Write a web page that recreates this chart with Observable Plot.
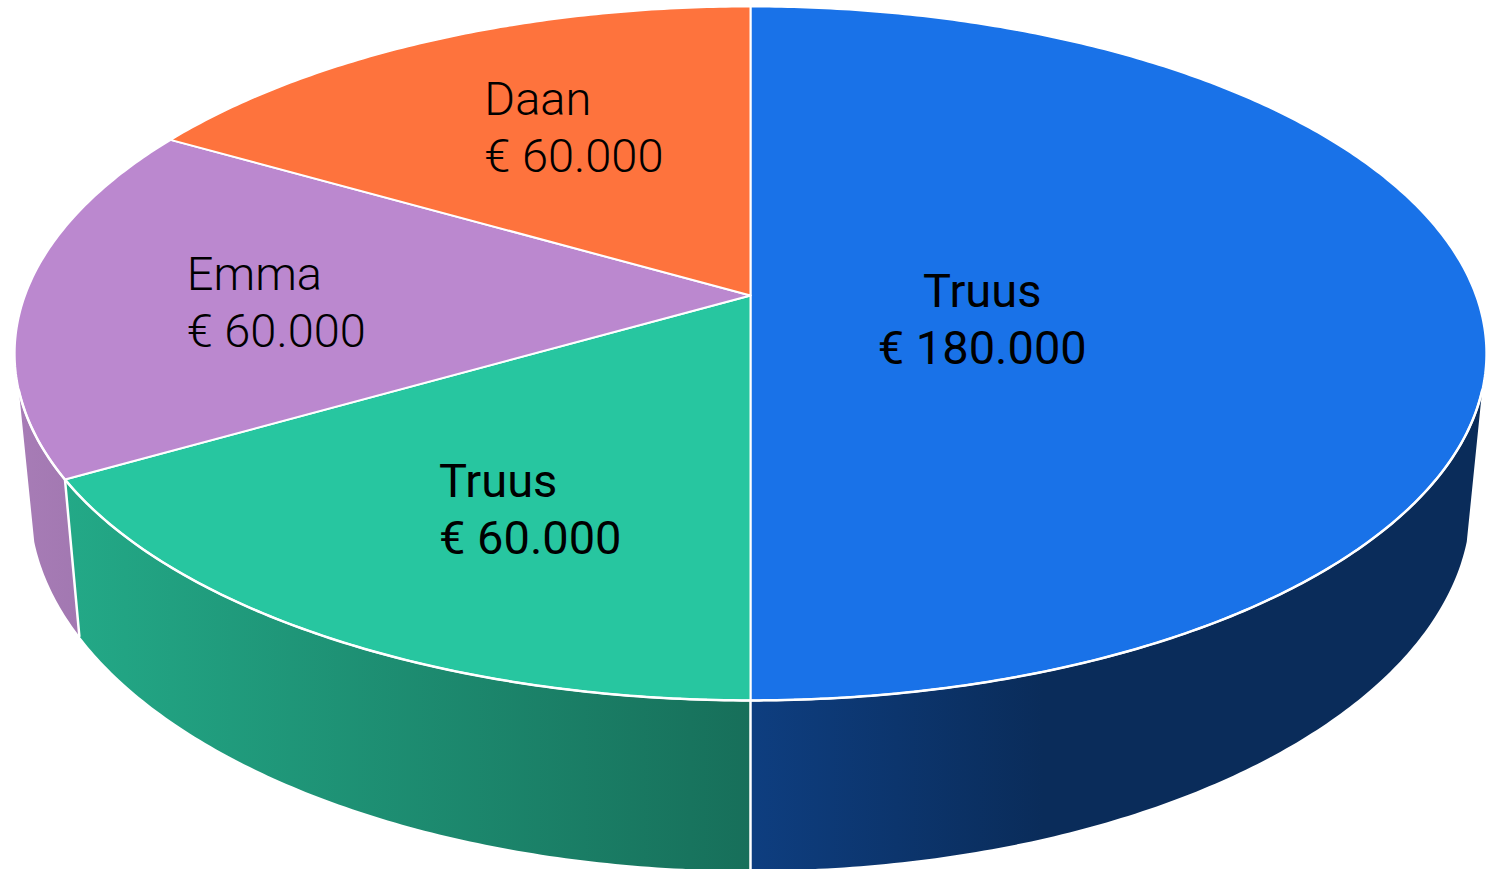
<!DOCTYPE html>
<html>
<head>
<meta charset="utf-8">
<script src="https://cdn.jsdelivr.net/npm/d3@7"></script>
<script src="https://cdn.jsdelivr.net/npm/@observablehq/plot@0.6"></script>
<style>
  html, body { margin: 0; padding: 0; background: #fff; }
  svg { display: block; }
</style>
</head>
<body>
<div id="chart"></div>
<script>
// Data, clockwise from twelve o'clock
const names = ["Truus", "Truus", "Emma", "Daan"];
const amounts = [180000, 60000, 60000, 60000];
const amountLabels = ["€ 180.000", "€ 60.000", "€ 60.000", "€ 60.000"];

// Colours
const topColors = ["#1972e8", "#27c6a0", "#bb88cf", "#fe733d"];
const wallFrom = ["#0e3e80", "#23a987", "#a77cb6", "#a77cb6"];
const wallTo = ["#0a2c5a", "#176f5a", "#a278b1", "#a278b1"];

// Perspective of the disc
const tilt = 0.167;
const lowerScaleX = 0.979, lowerScaleY = 1.0607, lowerShift = -0.4314;
const visibleFrom = 105.6 * Math.PI / 180, visibleTo = 254.4 * Math.PI / 180;
const upper = (a, r = 1) => {
  const X = r * Math.sin(a), Y = r * Math.cos(a), w = 1 + tilt * Y;
  return {u: X / w, v: Y / w};
};
const lower = (a) => {
  const X = Math.sin(a), Y = Math.cos(a), w = 1 + tilt * Y;
  return {u: lowerScaleX * X / w, v: lowerShift + lowerScaleY * Y / w};
};
const arcAngles = (a0, a1) => {
  const n = Math.max(2, Math.ceil((a1 - a0) / 0.01));
  return d3.range(n + 1).map(i => a0 + (a1 - a0) * i / n);
};

const slices = d3.pie().sort(null)(amounts).map((s, i) => ({
  a0: s.startAngle, a1: s.endAngle, mid: (s.startAngle + s.endAngle) / 2,
  name: names[i], amount: amountLabels[i], i
}));

const topFace = s => [{u: 0, v: 0}, ...arcAngles(s.a0, s.a1).map(a => upper(a)), {u: 0, v: 0}];
const wall = s => {
  const a0 = Math.max(s.a0, visibleFrom), a1 = Math.min(s.a1, visibleTo);
  if (a1 <= a0) return null;
  const angles = arcAngles(a0, a1);
  const path = [...angles.map(a => upper(a)), ...angles.slice().reverse().map(lower)];
  return [...path, path[0]];
};

const defs = () => {
  const d = d3.create("svg:defs");
  slices.forEach(s => {
    const g = d.append("linearGradient").attr("id", `wall${s.i}`).attr("x1", 0).attr("x2", 1).attr("y1", 0).attr("y2", 0);
    g.append("stop").attr("offset", 0).attr("stop-color", wallFrom[s.i]);
    g.append("stop").attr("offset", s.i === 0 ? 0.4 : 1).attr("stop-color", wallTo[s.i]);
  });
  return d.node();
};

const wallMarks = slices.map(s => {
  const pts = wall(s);
  return pts ? Plot.line(pts, {x: "u", y: "v", fill: `url(#wall${s.i})`, stroke: "none"}) : null;
});
const seams = slices
  .filter(s => s.a0 >= visibleFrom && s.a0 <= visibleTo)
  .map(s => Plot.line([upper(s.a0), lower(s.a0)], {x: "u", y: "v", stroke: "#fff", strokeWidth: 2.5}));
const faces = slices.map(s =>
  Plot.line(topFace(s), {x: "u", y: "v", fill: topColors[s.i], stroke: "#fff", strokeWidth: 2, strokeLinejoin: "miter"}));
const rim = Plot.line(arcAngles(visibleFrom, visibleTo).map(a => upper(a)),
  {x: "u", y: "v", stroke: "#fff", strokeWidth: 2.5});

// Label placement relative to each slice's mid-angle
const labelOffsets = [
  {dx: -131, dy: 22, anchor: "middle", weight: 400},
  {dx: -116, dy: 54, anchor: "start", weight: 400},
  {dx: -201, dy: 5, anchor: "start", weight: 300},
  {dx: -97, dy: -34, anchor: "start", weight: 300}
];
const labels = slices.map(s => {
  const o = labelOffsets[s.i];
  const p = upper(s.mid, 0.5);
  return Plot.text([{...p, t: `${s.name}\n${s.amount}`}], {
    x: "u", y: "v", text: "t", dx: o.dx, dy: o.dy, textAnchor: o.anchor,
    lineAnchor: "middle", lineHeight: 1.21, fontSize: 47, fontWeight: o.weight,
    fontFamily: "Roboto", fill: "#000"
  });
});

const chart = Plot.plot({
  width: 1496, height: 869,
  margin: 0,
  style: {background: "#fff"},
  x: {domain: [-1.03377, 1.02826], range: [0, 1496], axis: null},
  y: {domain: [0.8746, -1.7018], range: [0, 869], axis: null},
  marks: [defs, ...wallMarks.filter(Boolean), ...seams, ...faces, rim, ...labels]
});
document.getElementById("chart").append(chart);
</script>
</body>
</html>
